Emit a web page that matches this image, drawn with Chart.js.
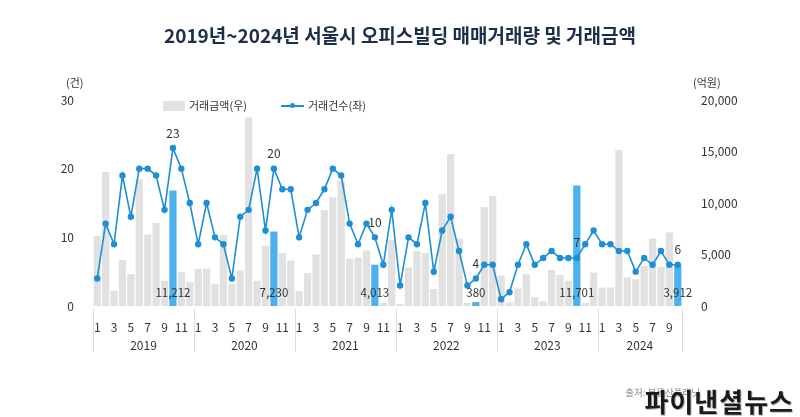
<!DOCTYPE html>
<html>
<head>
<meta charset="utf-8">
<script src="https://cdn.jsdelivr.net/npm/chart.js@4.4.1/dist/chart.umd.min.js"></script>
<style>
body { margin: 0; background: #fff; font-family: "Noto Sans CJK KR", "Noto Sans", sans-serif; }
#wrap { position: relative; width: 800px; height: 417px; overflow: hidden; }
#myChart { position: absolute; left: 0; top: 0; }
.txt { position: absolute; white-space: nowrap; line-height: 1; }
.title { left: 0; width: 800px; top: 25px; text-align: center; font-size: 19px; font-weight: bold; color: #1c2f4a; }
.unit { top: 77px; font-size: 11px; color: #333; }
.leg { top: 100px; font-size: 11px; color: #333; }
.swatch { position: absolute; left: 163px; top: 101px; width: 22px; height: 10px; background: #e1e1e1; }
.legline { position: absolute; left: 281px; top: 105px; width: 23px; height: 2px; background: #1e8fd5; }
.legdot { position: absolute; left: 290px; top: 103px; width: 5px; height: 5px; border-radius: 50%; background: #1e8fd5; }
.src { right: 100px; top: 388px; font-size: 9.5px; color: #888; }
.mark { right: 6px; top: 388px; font-size: 26px; font-weight: bold; color: #1a1a1a; letter-spacing: 1px; text-shadow: 1px 1px 0 #bbb; }
</style>
</head>
<body>
<div id="wrap">
  <canvas id="myChart" width="800" height="417"></canvas>
  <div class="txt title">2019년~2024년 서울시 오피스빌딩 매매거래량 및 거래금액</div>
  <div class="txt unit" style="left:66px">(건)</div>
  <div class="txt unit" style="left:693px">(억원)</div>
  <div class="swatch"></div>
  <div class="txt leg" style="left:189px">거래금액(우)</div>
  <div class="legline"></div>
  <div class="legdot"></div>
  <div class="txt leg" style="left:308px">거래건수(좌)</div>
  <div class="txt src">출처: 부동산플래닛</div>
  <div class="txt mark">파이낸셜뉴스</div>
</div>
<script>
const years = ['2019', '2020', '2021', '2022', '2023', '2024'];
const lastMonth = 10; // 2024 data ends in October
const highlightMonth = 10;

// 거래건수 (left axis), Jan 2019 - Oct 2024
const counts = [
	4, 12, 9, 19, 13, 20, 20, 19, 14, 23, 20, 15,
	9, 15, 10, 9, 4, 13, 14, 20, 11, 20, 17, 17,
	10, 14, 15, 17, 20, 19, 12, 9, 12, 10, 6, 14,
	3, 10, 9, 15, 5, 11, 13, 8, 3, 4, 6, 6,
	1, 2, 6, 9, 6, 7, 8, 7, 7, 7, 9, 11,
	9, 9, 8, 8, 5, 7, 6, 8, 6, 6,
];

// 거래금액 in 억원 (right axis)
const amounts = [
	6800, 13000, 1500, 4450, 3100, 12300, 6950, 8050, 2450, 11212, 3300, 2300,
	3600, 3650, 2150, 6900, 2150, 3450, 18300, 2450, 5850, 7230, 5150, 4400,
	1450, 3200, 5000, 9300, 10550, 12150, 4600, 4700, 5400, 4013, 300, 6400,
	200, 3750, 5350, 5150, 1650, 10850, 14750, 6550, 300, 380, 9600, 10700,
	2950, 350, 1700, 3100, 850, 450, 3500, 3000, 2450, 11701, 300, 3250,
	1800, 1800, 15150, 2800, 2600, 3900, 6550, 3800, 7150, 3912,
];

const labels = [];
const monthOf = [];
years.forEach((y, yi) => {
	const n = yi === years.length - 1 ? lastMonth : 12;
	for (let m = 1; m <= n; m++) {
		labels.push(y + '-' + m);
		monthOf.push(m);
	}
});

const FONT = '"Noto Sans CJK KR", "Noto Sans", sans-serif';

const extras = {
	id: 'extras',
	afterDatasetsDraw(chart) {
		const { ctx, chartArea } = chart;
		const x = chart.scales.x;
		const bars = chart.getDatasetMeta(0).data;
		const pts = chart.getDatasetMeta(1).data;
		ctx.save();
		ctx.fillStyle = '#333';
		ctx.textAlign = 'center';
		ctx.textBaseline = 'middle';
		monthOf.forEach((m, i) => {
			if (m !== highlightMonth) return;
			ctx.font = '11.5px ' + FONT;
			ctx.fillText(amounts[i].toLocaleString('en-US'), bars[i].x, chartArea.bottom - 13);
			ctx.font = '12px ' + FONT;
			ctx.fillText(String(counts[i]), pts[i].x, pts[i].y - 15);
		});

		// year separators and year labels
		const edges = [];
		let idx = 0;
		years.forEach((y, yi) => {
			edges.push(idx === 0 ? chartArea.left : (x.getPixelForValue(idx - 1) + x.getPixelForValue(idx)) / 2);
			idx += yi === years.length - 1 ? lastMonth : 12;
		});
		edges.push(chartArea.right);
		ctx.strokeStyle = '#dcdcdc';
		ctx.lineWidth = 1;
		edges.forEach(e => {
			ctx.beginPath();
			ctx.moveTo(Math.round(e) + 0.5, chartArea.bottom + 3);
			ctx.lineTo(Math.round(e) + 0.5, chartArea.bottom + 46);
			ctx.stroke();
		});
		ctx.font = '12px ' + FONT;
		ctx.fillStyle = '#333';
		years.forEach((y, yi) => {
			ctx.fillText(y, (edges[yi] + edges[yi + 1]) / 2, chartArea.bottom + 39);
		});
		ctx.restore();
	},
};

new Chart(document.getElementById('myChart'), {
	data: {
		labels,
		datasets: [{
			type: 'bar',
			label: '거래금액(우)',
			data: amounts,
			yAxisID: 'y2',
			order: 2,
			backgroundColor: ctx => monthOf[ctx.dataIndex] === highlightMonth ? '#4cb2ef' : '#e1e1e1',
			barPercentage: 0.86,
			categoryPercentage: 1,
		}, {
			type: 'line',
			label: '거래건수(좌)',
			data: counts,
			yAxisID: 'y',
			order: 1,
			borderColor: '#1e8fd5',
			backgroundColor: '#1e8fd5',
			borderWidth: 1.6,
			pointRadius: 2.4,
			pointHoverRadius: 2.4,
			tension: 0,
		}],
	},
	options: {
		responsive: false,
		animation: false,
		devicePixelRatio: 1,
		layout: { padding: { top: 100, left: 0, right: 0, bottom: 0 } },
		plugins: { legend: { display: false }, tooltip: { enabled: false } },
		scales: {
			x: {
				grid: { display: false },
				border: { display: false },
				ticks: {
					autoSkip: false,
					maxRotation: 0,
					padding: 6,
					color: '#333',
					font: { size: 12, family: FONT },
					callback: (v, i) => (monthOf[i] % 2 === 1 ? String(monthOf[i]) : ''),
				},
				afterFit: s => { s.height = 111; },
			},
			y: {
				position: 'left',
				min: 0,
				max: 30,
				grid: { display: false },
				border: { display: false },
				ticks: { stepSize: 10, padding: 11, color: '#333', font: { size: 12, family: FONT } },
				afterFit: s => { s.width = 93; },
			},
			y2: {
				position: 'right',
				min: 0,
				max: 20000,
				grid: { display: false },
				border: { display: false },
				ticks: {
					stepSize: 5000,
					padding: 11,
					color: '#333',
					font: { size: 12, family: FONT },
					callback: v => v.toLocaleString('en-US'),
				},
				afterFit: s => { s.width = 118; },
			},
		},
	},
	plugins: [extras],
});
</script>
</body>
</html>
